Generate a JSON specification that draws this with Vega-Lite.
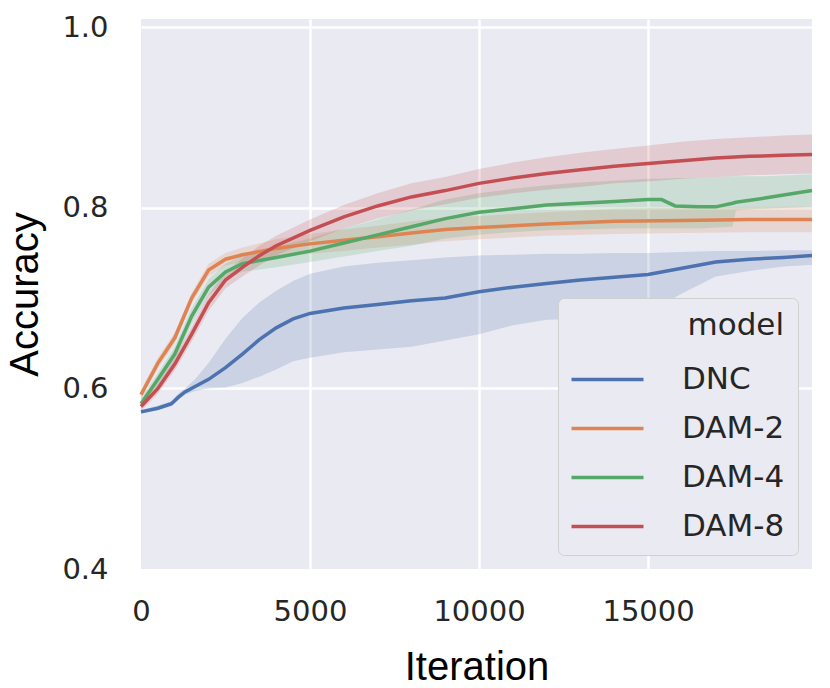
{
  "$schema": "https://vega.github.io/schema/vega-lite/v6.json",
  "autosize": {"type": "none"},
  "padding": {"left": 141, "top": 19, "right": 18, "bottom": 119},
  "width": 671,
  "height": 550,
  "background": "white",
  "config": {
    "view": {"fill": "#EAEAF2", "stroke": null},
    "axis": {
      "grid": true,
      "gridColor": "white",
      "gridWidth": 2.5,
      "gridOpacity": {"condition": {"test": "datum.value == 0 || datum.value == 0.4", "value": 0}, "value": 1},
      "domain": false,
      "ticks": false,
      "labelFlush": false,
      "labelFont": "DejaVu Sans",
      "labelFontSize": 29,
      "labelColor": "#262626",
      "titleFont": "Liberation Sans",
      "titleFontSize": 40,
      "titleFontWeight": "normal",
      "titleColor": "black"
    },
    "legend": {
      "titleFont": "DejaVu Sans",
      "titleFontSize": 31,
      "titleFontWeight": "normal",
      "titleColor": "#262626",
      "labelFont": "DejaVu Sans",
      "labelFontSize": 31,
      "labelColor": "#262626",
      "symbolStrokeWidth": 3.5,
      "fillColor": "#EAEAF2",
      "strokeColor": "#D0D0D0",
      "padding": 13,
      "cornerRadius": 6
    }
  },
  "data": {
    "values": [
      {"model": "DNC", "iteration": 0, "acc": 0.574, "lo": 0.572, "hi": 0.576},
      {"model": "DNC", "iteration": 500, "acc": 0.578, "lo": 0.576, "hi": 0.581},
      {"model": "DNC", "iteration": 900, "acc": 0.583, "lo": 0.580, "hi": 0.586},
      {"model": "DNC", "iteration": 1100, "acc": 0.590, "lo": 0.587, "hi": 0.594},
      {"model": "DNC", "iteration": 1300, "acc": 0.596, "lo": 0.593, "hi": 0.600},
      {"model": "DNC", "iteration": 1600, "acc": 0.602, "lo": 0.597, "hi": 0.610},
      {"model": "DNC", "iteration": 2000, "acc": 0.610, "lo": 0.600, "hi": 0.628},
      {"model": "DNC", "iteration": 2500, "acc": 0.623, "lo": 0.601, "hi": 0.655},
      {"model": "DNC", "iteration": 3000, "acc": 0.638, "lo": 0.606, "hi": 0.678},
      {"model": "DNC", "iteration": 3500, "acc": 0.654, "lo": 0.613, "hi": 0.695},
      {"model": "DNC", "iteration": 4000, "acc": 0.667, "lo": 0.621, "hi": 0.708},
      {"model": "DNC", "iteration": 4500, "acc": 0.677, "lo": 0.630, "hi": 0.719},
      {"model": "DNC", "iteration": 5000, "acc": 0.683, "lo": 0.634, "hi": 0.727},
      {"model": "DNC", "iteration": 6000, "acc": 0.689, "lo": 0.640, "hi": 0.735},
      {"model": "DNC", "iteration": 7000, "acc": 0.693, "lo": 0.643, "hi": 0.739},
      {"model": "DNC", "iteration": 8000, "acc": 0.697, "lo": 0.646, "hi": 0.742},
      {"model": "DNC", "iteration": 9000, "acc": 0.700, "lo": 0.653, "hi": 0.745},
      {"model": "DNC", "iteration": 10000, "acc": 0.707, "lo": 0.660, "hi": 0.747},
      {"model": "DNC", "iteration": 11000, "acc": 0.712, "lo": 0.670, "hi": 0.748},
      {"model": "DNC", "iteration": 12000, "acc": 0.716, "lo": 0.676, "hi": 0.749},
      {"model": "DNC", "iteration": 13000, "acc": 0.720, "lo": 0.677, "hi": 0.749},
      {"model": "DNC", "iteration": 14000, "acc": 0.723, "lo": 0.679, "hi": 0.750},
      {"model": "DNC", "iteration": 15000, "acc": 0.726, "lo": 0.684, "hi": 0.750},
      {"model": "DNC", "iteration": 16000, "acc": 0.733, "lo": 0.705, "hi": 0.751},
      {"model": "DNC", "iteration": 17000, "acc": 0.740, "lo": 0.724, "hi": 0.752},
      {"model": "DNC", "iteration": 18000, "acc": 0.743, "lo": 0.730, "hi": 0.752},
      {"model": "DNC", "iteration": 19000, "acc": 0.745, "lo": 0.735, "hi": 0.753},
      {"model": "DNC", "iteration": 19850, "acc": 0.747, "lo": 0.737, "hi": 0.753},

      {"model": "DAM-2", "iteration": 0, "acc": 0.593, "lo": 0.588, "hi": 0.598},
      {"model": "DAM-2", "iteration": 500, "acc": 0.628, "lo": 0.622, "hi": 0.634},
      {"model": "DAM-2", "iteration": 1000, "acc": 0.656, "lo": 0.650, "hi": 0.662},
      {"model": "DAM-2", "iteration": 1500, "acc": 0.700, "lo": 0.694, "hi": 0.706},
      {"model": "DAM-2", "iteration": 2000, "acc": 0.731, "lo": 0.724, "hi": 0.738},
      {"model": "DAM-2", "iteration": 2500, "acc": 0.743, "lo": 0.736, "hi": 0.750},
      {"model": "DAM-2", "iteration": 3000, "acc": 0.748, "lo": 0.740, "hi": 0.756},
      {"model": "DAM-2", "iteration": 4000, "acc": 0.755, "lo": 0.745, "hi": 0.765},
      {"model": "DAM-2", "iteration": 5000, "acc": 0.760, "lo": 0.749, "hi": 0.771},
      {"model": "DAM-2", "iteration": 6000, "acc": 0.764, "lo": 0.752, "hi": 0.776},
      {"model": "DAM-2", "iteration": 7000, "acc": 0.768, "lo": 0.756, "hi": 0.780},
      {"model": "DAM-2", "iteration": 8000, "acc": 0.772, "lo": 0.759, "hi": 0.785},
      {"model": "DAM-2", "iteration": 9000, "acc": 0.776, "lo": 0.763, "hi": 0.789},
      {"model": "DAM-2", "iteration": 10000, "acc": 0.778, "lo": 0.765, "hi": 0.791},
      {"model": "DAM-2", "iteration": 12000, "acc": 0.782, "lo": 0.769, "hi": 0.795},
      {"model": "DAM-2", "iteration": 14000, "acc": 0.785, "lo": 0.771, "hi": 0.799},
      {"model": "DAM-2", "iteration": 16000, "acc": 0.786, "lo": 0.772, "hi": 0.800},
      {"model": "DAM-2", "iteration": 18000, "acc": 0.787, "lo": 0.773, "hi": 0.801},
      {"model": "DAM-2", "iteration": 19850, "acc": 0.787, "lo": 0.773, "hi": 0.801},

      {"model": "DAM-4", "iteration": 0, "acc": 0.583, "lo": 0.578, "hi": 0.589},
      {"model": "DAM-4", "iteration": 500, "acc": 0.610, "lo": 0.603, "hi": 0.617},
      {"model": "DAM-4", "iteration": 1000, "acc": 0.638, "lo": 0.630, "hi": 0.646},
      {"model": "DAM-4", "iteration": 1500, "acc": 0.680, "lo": 0.671, "hi": 0.689},
      {"model": "DAM-4", "iteration": 2000, "acc": 0.712, "lo": 0.703, "hi": 0.721},
      {"model": "DAM-4", "iteration": 2500, "acc": 0.729, "lo": 0.720, "hi": 0.738},
      {"model": "DAM-4", "iteration": 3000, "acc": 0.738, "lo": 0.729, "hi": 0.747},
      {"model": "DAM-4", "iteration": 4000, "acc": 0.745, "lo": 0.734, "hi": 0.757},
      {"model": "DAM-4", "iteration": 5000, "acc": 0.752, "lo": 0.740, "hi": 0.766},
      {"model": "DAM-4", "iteration": 6000, "acc": 0.761, "lo": 0.746, "hi": 0.777},
      {"model": "DAM-4", "iteration": 7000, "acc": 0.770, "lo": 0.752, "hi": 0.787},
      {"model": "DAM-4", "iteration": 8000, "acc": 0.779, "lo": 0.758, "hi": 0.798},
      {"model": "DAM-4", "iteration": 9000, "acc": 0.788, "lo": 0.766, "hi": 0.809},
      {"model": "DAM-4", "iteration": 10000, "acc": 0.795, "lo": 0.770, "hi": 0.816},
      {"model": "DAM-4", "iteration": 11000, "acc": 0.799, "lo": 0.773, "hi": 0.821},
      {"model": "DAM-4", "iteration": 12000, "acc": 0.803, "lo": 0.775, "hi": 0.825},
      {"model": "DAM-4", "iteration": 13000, "acc": 0.805, "lo": 0.776, "hi": 0.828},
      {"model": "DAM-4", "iteration": 14000, "acc": 0.807, "lo": 0.777, "hi": 0.830},
      {"model": "DAM-4", "iteration": 15000, "acc": 0.809, "lo": 0.777, "hi": 0.832},
      {"model": "DAM-4", "iteration": 15400, "acc": 0.809, "lo": 0.777, "hi": 0.832},
      {"model": "DAM-4", "iteration": 15800, "acc": 0.802, "lo": 0.777, "hi": 0.833},
      {"model": "DAM-4", "iteration": 16500, "acc": 0.801, "lo": 0.777, "hi": 0.833},
      {"model": "DAM-4", "iteration": 17000, "acc": 0.801, "lo": 0.778, "hi": 0.834},
      {"model": "DAM-4", "iteration": 17500, "acc": 0.805, "lo": 0.779, "hi": 0.835},
      {"model": "DAM-4", "iteration": 17600, "acc": 0.806, "lo": 0.797, "hi": 0.835},
      {"model": "DAM-4", "iteration": 18500, "acc": 0.811, "lo": 0.799, "hi": 0.835},
      {"model": "DAM-4", "iteration": 19850, "acc": 0.819, "lo": 0.801, "hi": 0.837},

      {"model": "DAM-8", "iteration": 0, "acc": 0.580, "lo": 0.575, "hi": 0.585},
      {"model": "DAM-8", "iteration": 500, "acc": 0.600, "lo": 0.594, "hi": 0.606},
      {"model": "DAM-8", "iteration": 1000, "acc": 0.627, "lo": 0.620, "hi": 0.634},
      {"model": "DAM-8", "iteration": 1500, "acc": 0.660, "lo": 0.652, "hi": 0.668},
      {"model": "DAM-8", "iteration": 2000, "acc": 0.695, "lo": 0.686, "hi": 0.704},
      {"model": "DAM-8", "iteration": 2500, "acc": 0.720, "lo": 0.711, "hi": 0.729},
      {"model": "DAM-8", "iteration": 3000, "acc": 0.734, "lo": 0.724, "hi": 0.744},
      {"model": "DAM-8", "iteration": 3500, "acc": 0.747, "lo": 0.736, "hi": 0.758},
      {"model": "DAM-8", "iteration": 4000, "acc": 0.758, "lo": 0.747, "hi": 0.769},
      {"model": "DAM-8", "iteration": 5000, "acc": 0.775, "lo": 0.763, "hi": 0.787},
      {"model": "DAM-8", "iteration": 6000, "acc": 0.790, "lo": 0.777, "hi": 0.803},
      {"model": "DAM-8", "iteration": 7000, "acc": 0.802, "lo": 0.788, "hi": 0.816},
      {"model": "DAM-8", "iteration": 8000, "acc": 0.812, "lo": 0.797, "hi": 0.827},
      {"model": "DAM-8", "iteration": 9000, "acc": 0.819, "lo": 0.804, "hi": 0.834},
      {"model": "DAM-8", "iteration": 10000, "acc": 0.827, "lo": 0.811, "hi": 0.843},
      {"model": "DAM-8", "iteration": 11000, "acc": 0.833, "lo": 0.816, "hi": 0.850},
      {"model": "DAM-8", "iteration": 12000, "acc": 0.838, "lo": 0.820, "hi": 0.856},
      {"model": "DAM-8", "iteration": 13000, "acc": 0.842, "lo": 0.823, "hi": 0.861},
      {"model": "DAM-8", "iteration": 14000, "acc": 0.846, "lo": 0.827, "hi": 0.865},
      {"model": "DAM-8", "iteration": 15000, "acc": 0.849, "lo": 0.829, "hi": 0.869},
      {"model": "DAM-8", "iteration": 16000, "acc": 0.852, "lo": 0.832, "hi": 0.873},
      {"model": "DAM-8", "iteration": 17000, "acc": 0.855, "lo": 0.834, "hi": 0.876},
      {"model": "DAM-8", "iteration": 18000, "acc": 0.857, "lo": 0.836, "hi": 0.878},
      {"model": "DAM-8", "iteration": 19000, "acc": 0.858, "lo": 0.837, "hi": 0.880},
      {"model": "DAM-8", "iteration": 19850, "acc": 0.859, "lo": 0.838, "hi": 0.881}
    ]
  },
  "encoding": {
    "x": {
      "field": "iteration",
      "type": "quantitative",
      "title": "Iteration",
      "scale": {"domain": [0, 19850], "nice": false},
      "axis": {"values": [0, 5000, 10000, 15000], "format": "d", "labelPadding": 28, "titlePadding": 21}
    }
  },
  "layer": [
    {
      "mark": {"type": "area", "opacity": 0.2},
      "encoding": {
        "y": {
          "field": "lo",
          "type": "quantitative",
          "title": "Accuracy",
          "scale": {"domain": [0.4, 1.009], "nice": false, "zero": false},
          "axis": {"values": [0.4, 0.6, 0.8, 1.0], "format": ".1f", "labelPadding": 33, "titlePadding": 16}
        },
        "y2": {"field": "hi"},
        "fill": {
          "field": "model",
          "type": "nominal",
          "scale": {"domain": ["DAM-8", "DAM-4", "DAM-2", "DNC"], "range": ["#C44E52", "#55A868", "#DD8452", "#4C72B0"]},
          "legend": null
        }
      }
    },
    {
      "mark": {"type": "line", "strokeWidth": 3.5},
      "encoding": {
        "y": {"field": "acc", "type": "quantitative"},
        "color": {
          "field": "model",
          "type": "nominal",
          "title": "model",
          "scale": {"domain": ["DNC", "DAM-2", "DAM-4", "DAM-8"], "range": ["#4C72B0", "#DD8452", "#55A868", "#C44E52"]},
          "legend": {
            "orient": "bottom-right",
            "offset": 14,
            "titleAnchor": "end",
            "titlePadding": 13,
            "symbolType": "M-1.6,0H1.6",
            "symbolSize": 2025,
            "symbolOffset": 12,
            "labelOffset": 50,
            "rowPadding": 9
          }
        }
      }
    }
  ]
}
